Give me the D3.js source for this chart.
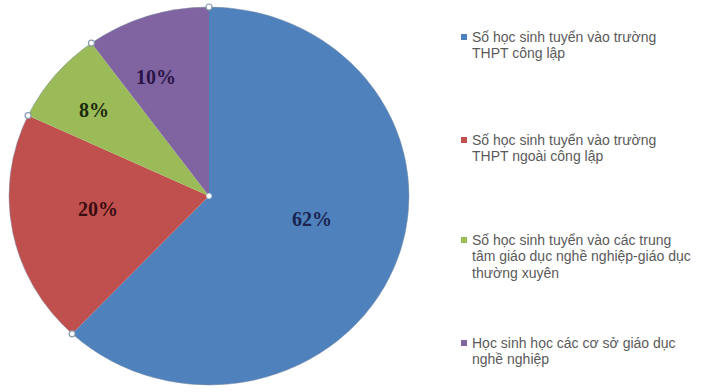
<!DOCTYPE html>
<html>
<head>
<meta charset="utf-8">
<script src="https://cdn.jsdelivr.net/npm/d3@7"></script>
<style>
  html, body { margin: 0; padding: 0; background: #fff; }
  svg { display: block; }
</style>
</head>
<body>
<svg id="chart" width="713" height="392"></svg>
<script>
// Phân bổ học sinh sau tốt nghiệp THCS
const categories = [
  ["Số học sinh tuyển vào trường", "THPT công lập"],
  ["Số học sinh tuyển vào trường", "THPT ngoài công lập"],
  ["Số học sinh tuyển vào  các trung", "tâm giáo dục nghề nghiệp-giáo dục", "thường xuyên"],
  ["Học sinh học các cơ sở giáo dục", "nghề nghiệp"]
];
const values = [62, 20, 8, 10];
const colors = ["#4F81BD", "#C0504D", "#9BBB59", "#8064A2"];
const labelColors = ["#1a2450", "#3a0d12", "#1c2a0c", "#2a1446"];

const svg = d3.select("#chart");
const cx = 209, cy = 196, rx = 200, ry = 189;

const pie = d3.pie().sort(null).value(d => d)(values);
const arc = d3.arc().innerRadius(0).outerRadius(rx);

// The pie is drawn on a circle and squashed vertically into an ellipse
const g = svg.append("g")
  .attr("transform", `translate(${cx},${cy}) scale(1,${ry / rx})`);

g.selectAll("path.slice")
  .data(pie)
  .join("path")
  .attr("class", "slice")
  .attr("d", arc)
  .attr("fill", (d, i) => colors[i])
  .attr("stroke", "none");

// faint outer rim
g.append("circle")
  .attr("r", rx)
  .attr("fill", "none")
  .attr("stroke", "#7f8fa6")
  .attr("stroke-opacity", 0.5)
  .attr("stroke-width", 1);

// Boundary handles at the slice edges and centre
const edgePts = pie.map(d => d.startAngle);
const handles = svg.append("g");
edgePts.forEach(a => {
  handles.append("circle")
    .attr("cx", cx + Math.sin(a) * rx)
    .attr("cy", cy - Math.cos(a) * ry)
    .attr("r", 3)
    .attr("fill", "#fff")
    .attr("stroke", "#8a9bb0")
    .attr("stroke-width", 1.2);
});
handles.append("circle")
  .attr("cx", cx).attr("cy", cy).attr("r", 2.5)
  .attr("fill", "#fff").attr("stroke", "#c8d4e3").attr("stroke-width", 1);

// Percentage labels
const labelPos = [
  [312, 219], [98, 209], [94, 110], [156, 77]
];
svg.append("g")
  .selectAll("text")
  .data(pie)
  .join("text")
  .attr("x", (d, i) => labelPos[i][0])
  .attr("y", (d, i) => labelPos[i][1])
  .attr("text-anchor", "middle")
  .attr("dominant-baseline", "central")
  .attr("font-family", "'Liberation Serif', 'Times New Roman', serif")
  .attr("font-weight", "bold")
  .attr("font-size", 20)
  .attr("fill", (d, i) => labelColors[i])
  .text(d => d.data + "%");

// Legend
const legendY = [37, 140, 240, 343];
const lineH = 16.3;
const legend = svg.append("g");
categories.forEach((lines, i) => {
  legend.append("rect")
    .attr("x", 461).attr("y", legendY[i] - 3)
    .attr("width", 6).attr("height", 6)
    .attr("fill", colors[i]);
  const t = legend.append("text")
    .attr("font-family", "'Liberation Sans', Arial, sans-serif")
    .attr("font-size", 14)
    .attr("fill", "#5a5a5a");
  lines.forEach((s, j) => {
    t.append("tspan")
      .attr("x", 472)
      .attr("y", legendY[i] + j * lineH)
      .attr("dominant-baseline", "central")
      .text(s);
  });
});
</script>
</body>
</html>
